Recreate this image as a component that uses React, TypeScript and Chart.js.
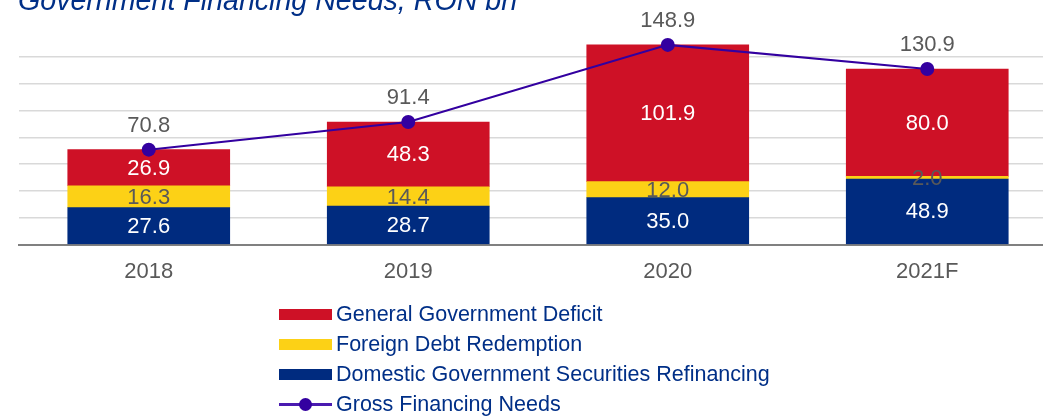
import React, { useEffect, useRef } from "react";
import { Chart, registerables } from "chart.js";

Chart.register(...registerables);

const categories = ["2018", "2019", "2020", "2021F"];
const domesticRefinancing = [27.6, 28.7, 35.0, 48.9];
const foreignRedemption = [16.3, 14.4, 12.0, 2.0];
const governmentDeficit = [26.9, 48.3, 101.9, 80.0];
const grossFinancingNeeds = [70.8, 91.4, 148.9, 130.9];

const seriesNames = [
  "General Government Deficit",
  "Foreign Debt Redemption",
  "Domestic Government Securities Refinancing",
  "Gross Financing Needs",
];

const RED = "#CE1126";
const YELLOW = "#FCD116";
const BLUE = "#002B7F";
const PURPLE = "#3300A0";
const TEXT_BLUE = "#002F87";
const FONT = "'Liberation Sans', Arial, sans-serif";

const labelPlugin = {
  id: "valueLabels",
  afterDatasetsDraw(chart: any) {
    const ctx = chart.ctx;
    ctx.save();
    ctx.textAlign = "center";
    ctx.textBaseline = "middle";
    ctx.font = `22px ${FONT}`;
    chart.data.datasets.forEach((ds: any, i: number) => {
      const meta = chart.getDatasetMeta(i);
      meta.data.forEach((el: any, j: number) => {
        const v = ds.data[j];
        const txt = Number(v).toFixed(1);
        if (ds.type === "line") {
          ctx.fillStyle = "#595959";
          ctx.fillText(txt, el.x, el.y - 24);
        } else {
          ctx.fillStyle = ds.labelColor;
          ctx.fillText(txt, el.x, (el.y + el.base) / 2 + 1);
        }
      });
    });
    ctx.restore();
  },
};

export default function App() {
  const ref = useRef<HTMLCanvasElement>(null);

  useEffect(() => {
    if (!ref.current) return;
    const chart = new Chart(ref.current, {
      type: "bar",
      data: {
        labels: categories,
        datasets: [
          {
            type: "line",
            label: seriesNames[3],
            data: grossFinancingNeeds,
            borderColor: PURPLE,
            backgroundColor: PURPLE,
            borderWidth: 2,
            pointRadius: 7,
            pointBackgroundColor: PURPLE,
            pointBorderWidth: 0,
            order: 0,
            stack: "total",
          } as any,
          {
            type: "bar",
            label: seriesNames[2],
            data: domesticRefinancing,
            backgroundColor: BLUE,
            barThickness: 162,
            order: 1,
            stack: "parts",
            labelColor: "#ffffff",
          } as any,
          {
            type: "bar",
            label: seriesNames[1],
            data: foreignRedemption,
            backgroundColor: YELLOW,
            barThickness: 162,
            order: 1,
            stack: "parts",
            labelColor: "#595959",
          } as any,
          {
            type: "bar",
            label: seriesNames[0],
            data: governmentDeficit,
            backgroundColor: RED,
            barThickness: 162,
            order: 1,
            stack: "parts",
            labelColor: "#ffffff",
          } as any,
        ],
      },
      options: {
        responsive: false,
        maintainAspectRatio: false,
        animation: false,
        layout: { padding: { left: 19, right: 23, top: 30, bottom: 5 } },
        plugins: {
          legend: { display: false },
          tooltip: { enabled: false },
        },
        scales: {
          x: {
            stacked: true,
            offset: true,
            grid: { display: false, drawTicks: false },
            border: { display: true, color: "#808080", width: 2 },
            ticks: { color: "#595959", font: { size: 22, family: FONT }, padding: 14.5 },
          },
          y: {
            stacked: true,
            min: 0,
            max: 160,
            ticks: { display: false, stepSize: 20 },
            grid: {
              drawTicks: false,
              lineWidth: 1.5,
              color: (c: any) =>
                c.tick && (c.tick.value === 160 || c.tick.value === 0) ? "rgba(0,0,0,0)" : "#D9D9D9",
            },
            border: { display: false },
          },
        },
      },
      plugins: [labelPlugin],
    });
    return () => chart.destroy();
  }, []);

  const legendRows = [
    { name: seriesNames[0], color: RED, kind: "bar" },
    { name: seriesNames[1], color: YELLOW, kind: "bar" },
    { name: seriesNames[2], color: BLUE, kind: "bar" },
    { name: seriesNames[3], color: PURPLE, kind: "line" },
  ];

  return (
    <div
      style={{
        position: "absolute",
        left: 0,
        top: 0,
        width: 1043,
        height: 416,
        overflow: "hidden",
        background: "#fff",
        fontFamily: FONT,
      }}
    >
      <canvas
        ref={ref}
        width={1080}
        height={305}
        style={{ position: "absolute", left: 0, top: 0, width: 1080, height: 305 }}
      />
      <div
        style={{
          position: "absolute",
          left: 18,
          top: -14,
          fontSize: 28.6,
          lineHeight: "28px",
          fontStyle: "italic",
          color: TEXT_BLUE,
          whiteSpace: "nowrap",
        }}
      >
        Government Financing Needs, RON bn
      </div>
      {legendRows.map((r, i) => (
        <div
          key={r.name}
          style={{
            position: "absolute",
            left: 279,
            top: 299 + i * 30,
            height: 30,
            display: "flex",
            alignItems: "center",
            whiteSpace: "nowrap",
          }}
        >
          {r.kind === "bar" ? (
            <div style={{ width: 53, height: 11, background: r.color }} />
          ) : (
            <div style={{ position: "relative", width: 53, height: 14 }}>
              <div
                style={{
                  position: "absolute",
                  left: 0,
                  top: 6,
                  width: 53,
                  height: 2.5,
                  background: "#4A1AB0",
                }}
              />
              <div
                style={{
                  position: "absolute",
                  left: 20,
                  top: 0.5,
                  width: 13,
                  height: 13,
                  borderRadius: "50%",
                  background: r.color,
                }}
              />
            </div>
          )}
          <span
            style={{
              marginLeft: 4,
              fontSize: 21.5,
              lineHeight: "30px",
              color: TEXT_BLUE,
            }}
          >
            {r.name}
          </span>
        </div>
      ))}
    </div>
  );
}
